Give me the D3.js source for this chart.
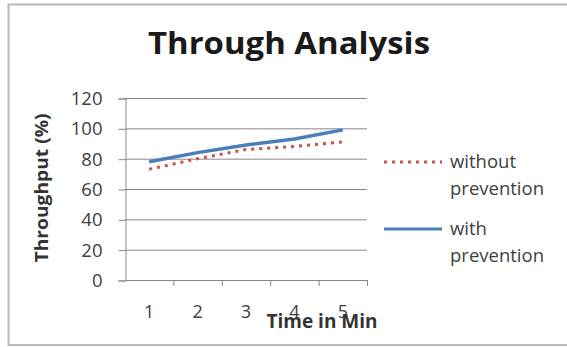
<!DOCTYPE html>
<html>
<head>
<meta charset="utf-8">
<script src="https://cdn.jsdelivr.net/npm/d3@7"></script>
<style>
  html, body { margin: 0; padding: 0; background: #fff; }
  svg { display: block; }
  text { font-family: "Open Sans", Lato, sans-serif; }
</style>
</head>
<body>
<svg id="chart" width="567" height="347"></svg>
<script>
// Throughput per minute, with and without prevention
const minutes = ["1", "2", "3", "4", "5"];
const withoutPrevention = [73, 80, 86, 88, 91];
const withPrevention = [78, 84, 89, 93, 99];
const yTicks = [0, 20, 40, 60, 80, 100, 120];

const FONT = "'Open Sans', Lato, sans-serif";
const svg = d3.select("#chart");

// outer frame
svg.append("rect")
  .attr("x", 8.5).attr("y", 4.5)
  .attr("width", 580).attr("height", 340.5)
  .attr("fill", "none").attr("stroke", "#b8b8b8").attr("stroke-width", 2);

const plot = { left: 125, right: 367, top: 98, bottom: 280 };

const x = d3.scaleBand().domain(minutes).range([plot.left, plot.right]);
const y = d3.scaleLinear().domain([0, 120]).range([plot.bottom, plot.top]);

// horizontal gridlines
svg.append("g")
  .selectAll("line")
  .data(yTicks.filter(d => d > 0))
  .join("line")
  .attr("x1", plot.left).attr("x2", plot.right)
  .attr("y1", d => y(d) + 0.5).attr("y2", d => y(d) + 0.5)
  .attr("stroke", "#868686").attr("stroke-width", 1);

// y axis
const yAxis = svg.append("g")
  .attr("transform", `translate(${plot.left + 0.5},0.5)`)
  .call(d3.axisLeft(y).tickValues(yTicks).tickSize(7).tickPadding(16));
yAxis.select(".domain").attr("stroke", "#868686");
yAxis.selectAll(".tick line").attr("stroke", "#868686");
yAxis.selectAll(".tick text")
  .attr("fill", "#404040").style("font-size", "18.5px")
  .style("font-family", FONT);

// x axis, labels sit well below the line
const xAxis = svg.append("g")
  .attr("transform", `translate(0,${plot.bottom + 0.5})`)
  .call(d3.axisBottom(x).tickSize(0).tickPadding(25));
xAxis.select(".domain").attr("stroke", "#868686").attr("d", `M${plot.left},0H${plot.right}`);
xAxis.selectAll(".tick text")
  .attr("fill", "#404040").style("font-size", "18px")
  .style("font-family", FONT);
// category boundary ticks
svg.append("g")
  .selectAll("line")
  .data(minutes)
  .join("line")
  .attr("x1", d => x(d) + x.bandwidth() + 0.5)
  .attr("x2", d => x(d) + x.bandwidth() + 0.5)
  .attr("y1", plot.bottom).attr("y2", plot.bottom + 6)
  .attr("stroke", "#868686");

const line = d3.line()
  .x((d, i) => x(minutes[i]) + x.bandwidth() / 2)
  .y(d => y(d));

svg.append("path")
  .datum(withPrevention)
  .attr("d", line)
  .attr("fill", "none")
  .attr("stroke", "#4a7ebb").attr("stroke-width", 3.5);

svg.append("path")
  .datum(withoutPrevention)
  .attr("d", line)
  .attr("fill", "none")
  .attr("stroke", "#c8504d").attr("stroke-width", 3)
  .attr("stroke-dasharray", "3,5");

// title
svg.append("text")
  .attr("x", 289).attr("y", 54)
  .attr("text-anchor", "middle")
  .attr("font-weight", "bold")
  .attr("font-size", 31)
  .attr("textLength", 282)
  .attr("lengthAdjust", "spacingAndGlyphs")
  .attr("fill", "#1a1a1a")
  .text("Through Analysis");

// axis titles
svg.append("text")
  .attr("transform", "translate(48,188) rotate(-90)")
  .attr("text-anchor", "middle")
  .attr("font-weight", "bold")
  .attr("font-size", 18)
  .attr("textLength", 149)
  .attr("lengthAdjust", "spacingAndGlyphs")
  .attr("fill", "#333")
  .text("Throughput (%)");

svg.append("text")
  .attr("x", 322).attr("y", 328)
  .attr("text-anchor", "middle")
  .attr("font-weight", "bold")
  .attr("font-size", 19)
  .attr("fill", "#333")
  .text("Time in Min");

// legend
const legend = [
  { name: ["without", "prevention"], color: "#c8504d", dash: "3,5", y: 162 },
  { name: ["with", "prevention"], color: "#4a7ebb", dash: null, y: 229 }
];
const lg = svg.append("g");
legend.forEach(item => {
  lg.append("line")
    .attr("x1", 384).attr("x2", 442)
    .attr("y1", item.y).attr("y2", item.y)
    .attr("stroke", item.color).attr("stroke-width", 3)
    .attr("stroke-dasharray", item.dash);
  const t = lg.append("text")
    .attr("x", 450).attr("y", item.y + 6)
    .attr("font-size", 18.5).attr("fill", "#404040");
  t.append("tspan").attr("x", 450).text(item.name[0]);
  t.append("tspan").attr("x", 450).attr("dy", 27).text(item.name[1]);
});
</script>
</body>
</html>
